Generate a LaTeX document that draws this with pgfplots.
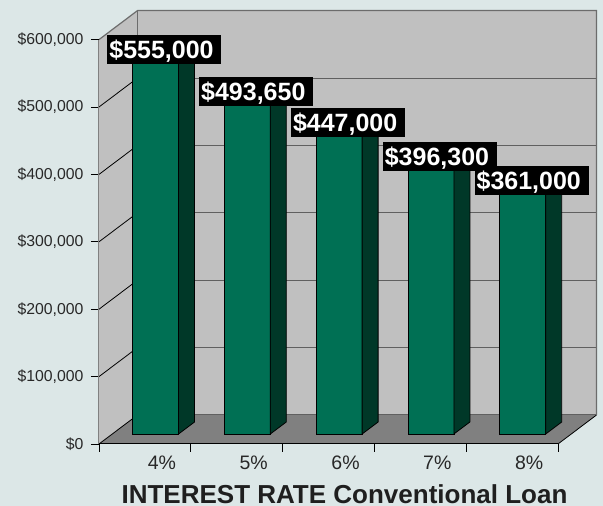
\documentclass[border=0pt]{standalone}
\usepackage{pgfplots}
\pgfplotsset{compat=1.18}
\usepackage{pgfplotstable}
\usepackage{fontspec}
\setmainfont{Liberation Sans}
\definecolor{bg}{RGB}{220,231,231}
\definecolor{barfront}{RGB}{0,112,84}
\definecolor{barside}{RGB}{0,56,40}
\definecolor{bartop}{RGB}{0,90,68}
\definecolor{wall}{RGB}{192,192,192}
\definecolor{floorc}{RGB}{128,128,128}
\definecolor{gridc}{RGB}{96,96,96}
\definecolor{ticktext}{RGB}{40,40,40}

\pgfplotstableread{
x v label
0.5 555 \$555,000
1.5 493.65 \$493,650
2.5 447 \$447,000
3.5 396.3 \$396,300
4.5 361 \$361,000
}\loandata

\pgfdeclareplotmark{bar3d}{%
  \pgfsetlinewidth{0.8pt}%
  \pgfsetstrokecolor{black}%
  \pgfsetfillcolor{barfront}%
  \pgfpathrectangle{\pgfpoint{-12.4pt}{10pt-\hh pt}}{\pgfpoint{46pt}{\hh pt}}%
  \pgfusepath{fill,stroke}%
  \pgfsetfillcolor{barside}%
  \pgfpathmoveto{\pgfpoint{33.6pt}{10pt-\hh pt}}%
  \pgfpathlineto{\pgfpoint{49.6pt}{22pt-\hh pt}}%
  \pgfpathlineto{\pgfpoint{49.6pt}{22pt}}%
  \pgfpathlineto{\pgfpoint{33.6pt}{10pt}}%
  \pgfpathclose
  \pgfusepath{fill,stroke}%
  \pgfsetfillcolor{bartop}%
  \pgfpathmoveto{\pgfpoint{-12.4pt}{10pt}}%
  \pgfpathlineto{\pgfpoint{33.6pt}{10pt}}%
  \pgfpathlineto{\pgfpoint{49.6pt}{22pt}}%
  \pgfpathlineto{\pgfpoint{3.6pt}{22pt}}%
  \pgfpathclose
  \pgfusepath{fill,stroke}%
}

\def\bk{38.5pt,29pt}

\begin{document}
\begin{tikzpicture}[x=1pt,y=1pt]
\fill[bg] (-99pt,-62pt) rectangle (504pt,444pt);
\begin{axis}[
  anchor=origin, at={(0pt,0pt)},
  x=91.8pt, y=0.674pt,
  xmin=0, xmax=5, ymin=0, ymax=600,
  clip=false, axis on top,
  axis x line*=bottom, axis y line*=left,
  x axis line style={black, line width=1pt, -},
  y axis line style={gray, line width=1pt, -},
  xtick={0,1,2,3,4,5}, x tick label as interval,
  xticklabels={4\%,5\%,6\%,7\%,8\%},
  ytick={0,100,200,300,400,500,600},
  yticklabels={\$0,{\$100,000},{\$200,000},{\$300,000},{\$400,000},{\$500,000},{\$600,000}},
  tick align=outside, major tick length=8pt,
  tick style={black, line width=0.8pt},
  yticklabel style={font=\fontsize{15.8}{18}\selectfont, text=ticktext, xshift=-4pt},
  xticklabel style={font=\fontsize{19.5}{22}\selectfont, text=ticktext, xshift=17pt},
  xlabel={INTEREST RATE Conventional Loan},
  xlabel style={font=\bfseries\fontsize{26}{29}\selectfont, text=black!88, inner sep=0pt,
    at={(axis description cs:0.5,0)}, anchor=base, yshift=-59.5pt, xshift=16pt},
]
% walls and floor
\fill[wall] (axis cs:0,0) -- (axis cs:0,600) -- ([shift={(\bk)}]axis cs:0,600) -- ([shift={(\bk)}]axis cs:0,0) -- cycle;
\fill[wall] ([shift={(\bk)}]axis cs:0,0) rectangle ([shift={(\bk)}]axis cs:5,600);
\fill[floorc] (axis cs:0,0) -- (axis cs:5,0) -- ([shift={(\bk)}]axis cs:5,0) -- ([shift={(\bk)}]axis cs:0,0) -- cycle;
\pgfplotsinvokeforeach{100,200,300,400,500}{
  \draw[gridc, line width=0.9pt] ([shift={(\bk)}]axis cs:0,#1) -- ([shift={(\bk)}]axis cs:5,#1);
  \draw[black, line width=0.8pt] (axis cs:0,#1) -- ([shift={(\bk)}]axis cs:0,#1);
}
\draw[gridc, line width=1pt] ([shift={(\bk)}]axis cs:0,0) -- ([shift={(\bk)}]axis cs:5,0);
\draw[black, line width=0.8pt] (axis cs:0,0) -- ([shift={(\bk)}]axis cs:0,0);
\draw[black, line width=0.8pt] (axis cs:5,0) -- ([shift={(\bk)}]axis cs:5,0);
\draw[gray!85!black, line width=1.2pt] (axis cs:0,600) -- ([shift={(\bk)}]axis cs:0,600) -- ([shift={(\bk)}]axis cs:5,600) -- ([shift={(\bk)}]axis cs:5,0);
\draw[gray!85!black, line width=1pt] ([shift={(\bk)}]axis cs:0,0) -- ([shift={(\bk)}]axis cs:0,600);
% bars
\addplot[scatter, only marks, mark=bar3d, point meta=y,
  scatter/use mapped color={draw=black, fill=black},
  visualization depends on={rawy*0.674 \as \hh}]
  table[x=x, y=v] {\loandata};
% value labels
\addplot[draw=none, mark=none, point meta=explicit symbolic,
  nodes near coords={\makebox[110pt][l]{\pgfplotspointmeta}},
  every node near coord/.append style={anchor=center, xshift=19.5pt, yshift=20pt,
    fill=black, text=white, font=\bfseries\fontsize{25}{28}\selectfont,
    inner xsep=2pt, inner ysep=0pt, text height=18pt, text depth=0pt, minimum height=29pt}]
  table[x=x, y=v, meta=label] {\loandata};
\end{axis}
\pgfresetboundingbox
\useasboundingbox (-99pt,-62pt) rectangle (504pt,444pt);
\end{tikzpicture}
\end{document}
